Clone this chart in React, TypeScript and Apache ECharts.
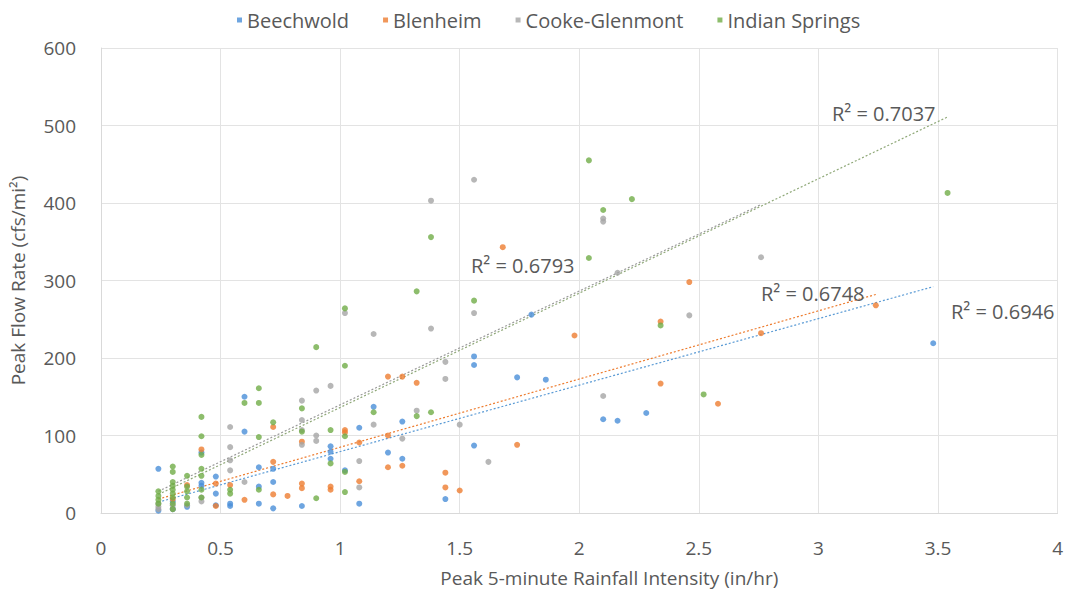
import React, { useEffect, useRef } from "react";
import * as echarts from "echarts";

const seriesNames = ["Beechwold", "Blenheim", "Cooke-Glenmont", "Indian Springs"];
const colors = ["#4A8FD8", "#ED7D31", "#A5A5A5", "#70AD47"];

const beechwold: number[][] = [
  [0.24, 57], [0.24, 3], [0.3, 5], [0.3, 15], [0.36, 8], [0.42, 78], [0.42, 39], [0.42, 35],
  [0.48, 47], [0.48, 25], [0.48, 10], [0.54, 12], [0.54, 9], [0.6, 150], [0.6, 105],
  [0.66, 59], [0.66, 34], [0.66, 12], [0.72, 57], [0.72, 40], [0.72, 6], [0.84, 9],
  [0.96, 86], [0.96, 79], [0.96, 70], [1.02, 55], [1.08, 110], [1.08, 12], [1.14, 137],
  [1.2, 78], [1.26, 118], [1.26, 70], [1.44, 18], [1.56, 202], [1.56, 191], [1.56, 87],
  [1.74, 175], [1.8, 256], [1.86, 172], [2.1, 121], [2.16, 119], [2.28, 129], [3.48, 219],
];

const blenheim: number[][] = [
  [0.3, 18], [0.36, 36], [0.42, 82], [0.48, 38], [0.48, 9], [0.54, 36], [0.6, 17],
  [0.72, 111], [0.72, 66], [0.72, 24], [0.78, 22], [0.84, 92], [0.84, 38], [0.84, 32],
  [0.96, 34], [0.96, 30], [1.02, 107], [1.02, 104], [1.08, 91], [1.08, 41], [1.2, 176],
  [1.2, 100], [1.2, 59], [1.26, 176], [1.26, 61], [1.32, 168], [1.44, 52], [1.44, 33],
  [1.5, 29], [1.68, 343], [1.74, 88], [1.98, 229], [2.34, 247], [2.34, 167], [2.46, 298],
  [2.58, 141], [2.76, 232], [3.24, 268],
];

const cookeGlenmont: number[][] = [
  [0.24, 12], [0.24, 8], [0.24, 5], [0.3, 10], [0.3, 5], [0.36, 10], [0.42, 20], [0.42, 15],
  [0.54, 111], [0.54, 85], [0.54, 68], [0.54, 55], [0.6, 40], [0.84, 145], [0.84, 120],
  [0.84, 107], [0.84, 88], [0.9, 158], [0.9, 100], [0.9, 93], [0.96, 164], [1.02, 258],
  [1.08, 67], [1.08, 33], [1.14, 231], [1.14, 114], [1.26, 96], [1.32, 132], [1.38, 403],
  [1.38, 238], [1.44, 195], [1.44, 173], [1.5, 114], [1.56, 430], [1.56, 258], [1.62, 66],
  [2.1, 380], [2.1, 376], [2.1, 151], [2.16, 310], [2.46, 255], [2.76, 330],
];

const indianSprings: number[][] = [
  [0.24, 28], [0.24, 22], [0.24, 17], [0.24, 12], [0.3, 60], [0.3, 53], [0.3, 40], [0.3, 35],
  [0.3, 30], [0.3, 25], [0.3, 20], [0.3, 12], [0.3, 5], [0.36, 48], [0.36, 34], [0.36, 28],
  [0.36, 20], [0.36, 12], [0.42, 124], [0.42, 99], [0.42, 75], [0.42, 57], [0.42, 48],
  [0.42, 30], [0.42, 20], [0.54, 30], [0.54, 25], [0.6, 142], [0.66, 161], [0.66, 142],
  [0.66, 98], [0.66, 30], [0.72, 117], [0.84, 135], [0.84, 105], [0.9, 214], [0.9, 19],
  [0.96, 107], [0.96, 64], [1.02, 264], [1.02, 190], [1.02, 99], [1.02, 53], [1.02, 27],
  [1.14, 130], [1.32, 286], [1.32, 125], [1.38, 356], [1.38, 130], [1.56, 274], [2.04, 455],
  [2.04, 329], [2.1, 391], [2.22, 405], [2.34, 242], [2.52, 153], [3.54, 413],
];

// trend line end points
const trendBeechwold: number[][] = [[0.24, 14], [3.48, 292]];
const trendBlenheim: number[][] = [[0.24, 18], [3.24, 282]];
const trendCooke: number[][] = [[0.24, 28], [2.76, 398]];
const trendIndian: number[][] = [[0.24, 24], [3.54, 511]];

const r2Labels = ["R² = 0.6946", "R² = 0.6748", "R² = 0.6793", "R² = 0.7037"];

const xTicks = [0, 0.5, 1, 1.5, 2, 2.5, 3, 3.5, 4];

const FONT = "'Open Sans', 'Noto Sans', sans-serif";
const TXT = "#595959";

export default function App() {
  const ref = useRef<HTMLDivElement>(null);
  useEffect(() => {
    if (!ref.current) return;
    const chart = echarts.init(ref.current, null, { renderer: "svg" });
    const scatterData = [beechwold, blenheim, cookeGlenmont, indianSprings];
    const trends = [trendBeechwold, trendBlenheim, trendCooke, trendIndian];
    const trendColors = ["#5B9BD5", "#ED7D31", "#9a9a9a", "#8FA878"];
    const series: any[] = [];
    scatterData.forEach((d, i) => {
      series.push({
        name: seriesNames[i],
        type: "scatter",
        data: d,
        symbol: "circle",
        symbolSize: 6,
        itemStyle: { color: colors[i] },
        z: 3,
      });
    });
    trends.forEach((d, i) => {
      series.push({
        name: seriesNames[i] + " trend",
        type: "line",
        data: d,
        symbol: "none",
        silent: true,
        lineStyle: { color: trendColors[i], width: 1.2, type: [2, 2] },
        z: 2,
      });
    });
    const labelPos = [
      [951, 314],
      [761, 296],
      [471, 268],
      [832, 116],
    ];
    chart.setOption({
      animation: false,
      backgroundColor: "#ffffff",
      textStyle: { fontFamily: FONT },
      legend: {
        data: seriesNames,
        top: 5,
        left: 232,
        itemWidth: 5,
        itemHeight: 5,
        itemGap: 34,
        icon: "rect",
        textStyle: { color: TXT, fontSize: 20, fontFamily: FONT },
      },
      grid: { left: 97, right: 6, top: 48, bottom: 79, containLabel: false },
      xAxis: {
        type: "value",
        min: 0,
        max: 4,
        interval: 0.5,
        name: "Peak 5-minute Rainfall Intensity (in/hr)",
        nameLocation: "middle",
        nameGap: 55,
        nameTextStyle: { color: TXT, fontSize: 19, fontFamily: FONT, padding: [0, 0, 0, 60] },
        axisLine: { show: true, lineStyle: { color: "#d9d9d9" } },
        axisTick: { show: false },
        axisLabel: {
          color: TXT,
          fontSize: 19,
          margin: 25,
          formatter: (v: number) => (xTicks.includes(v) ? String(v) : ""),
        },
        splitLine: { show: true, lineStyle: { color: "#e3e3e3" } },
      },
      yAxis: {
        type: "value",
        min: 0,
        max: 600,
        interval: 100,
        name: "Peak Flow Rate (cfs/mi²)",
        nameLocation: "middle",
        nameGap: 74,
        nameTextStyle: { color: TXT, fontSize: 19, fontFamily: FONT },
        axisLine: { show: true, lineStyle: { color: "#d9d9d9" } },
        axisTick: { show: false },
        axisLabel: { color: TXT, fontSize: 19, margin: 25 },
        splitLine: { show: true, lineStyle: { color: "#e3e3e3" } },
      },
      graphic: r2Labels.map((t, i) => ({
        type: "text",
        left: labelPos[i][0],
        top: labelPos[i][1] - 13,
        style: { text: t, fill: TXT, fontSize: 20, fontFamily: FONT },
        z: 10,
      })),
      series,
    });
    return () => chart.dispose();
  }, []);
  return (
    <div
      ref={ref}
      style={{ position: "fixed", left: 0, top: 0, width: 1066, height: 592 }}
    />
  );
}
